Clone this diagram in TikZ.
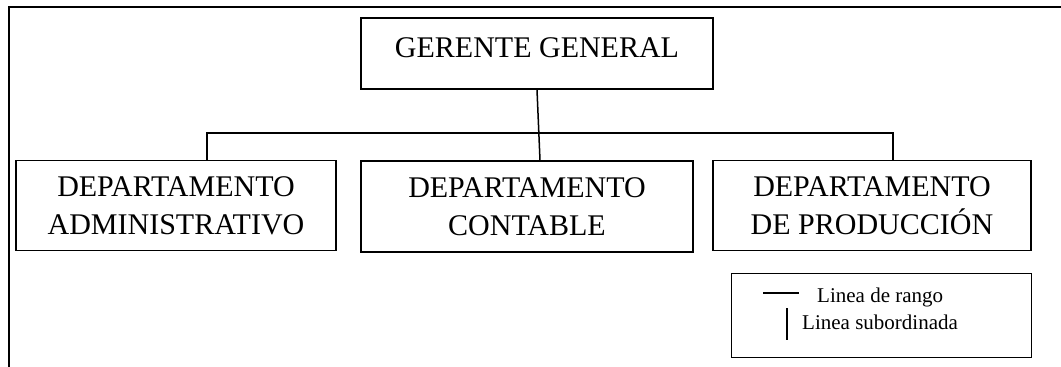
\documentclass[tikz,border=0pt]{standalone}
\usepackage{fontspec}
\setmainfont{Liberation Serif}
\usetikzlibrary{positioning,calc}
\definecolor{orgLine}{HTML}{000000}

\begin{document}
\begin{tikzpicture}[x=1pt, y=-1pt,
          boxGer/.style={rectangle, draw=orgLine, line width=1.5pt, minimum width=352pt, inner sep=0pt, text height=39pt, text depth=32pt, font=\fontsize{30}{38}\selectfont},
          boxDep/.style={rectangle, draw=orgLine, line width=1.5pt, minimum height=90pt, inner sep=0pt, align=center, font=\fontsize{30}{38}\selectfont},
          link/.style={draw=orgLine, line width=1.5pt},
          legText/.style={font=\fontsize{21}{24}\selectfont, anchor=base west, inner sep=0pt}
        ]
          \useasboundingbox (0,0) rectangle (1061,367);
          % marco
          \draw[orgLine, line width=2pt] (1061,7) -- (8.5,7) -- (8.5,367);
          % cajas
          \node[boxGer] (ger) at (537,53.5) {GERENTE GENERAL};
          \node[boxDep, minimum width=320pt] (adm) at (176,205.5) {DEPARTAMENTO\\ADMINISTRATIVO};
          \node[boxDep, minimum width=332pt, minimum height=91pt] (con) at (527,206.5) {DEPARTAMENTO\\CONTABLE};
          \node[boxDep, minimum width=318pt] (pro) at (872,205.5) {DEPARTAMENTO\\DE PRODUCCIÓN};
          % lineas
          \coordinate (busL) at (207,133);
          \coordinate (busR) at (893,133);
          \draw[link] (adm.north -| busL) -- (busL) -- (busR) -- (pro.north -| busR);
          \draw[link] (ger.south) -- ($(con.north -| ger.south)+(3,0)$);
          % leyenda
          \node[rectangle, draw=orgLine, line width=1pt, minimum width=300pt, minimum height=84pt, inner sep=0pt] (leg) at (881,315) {};
          \node[legText] (rango) at (817,302) {Linea de rango};
          \node[legText] (subor) at (802,329) {Linea subordinada};
          \draw[link] (763,293) -- (799,293);
          \draw[link] (787,308) -- (787,340);
        \end{tikzpicture}
\end{document}
